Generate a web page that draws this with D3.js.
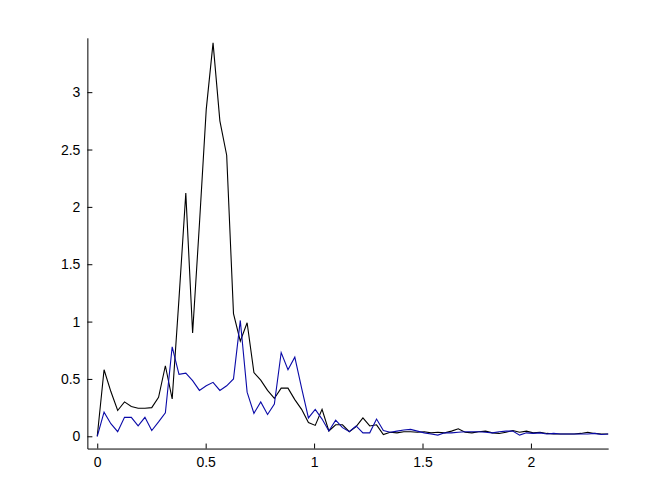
<!DOCTYPE html>
<html>
<head>
<meta charset="utf-8">
<script src="https://cdn.jsdelivr.net/npm/d3@7"></script>
<style>
  html, body { margin: 0; padding: 0; background: #ffffff; }
  svg { display: block; }
  .tick text { font-family: "Liberation Sans", Arial, sans-serif; font-size: 14px; fill: #000; }
</style>
</head>
<body>
<svg id="chart" width="672" height="504"></svg>
<script>
// Sample spacing: x = 0 : pi/100 : 3*pi/4
const step = Math.PI / 100;
const seriesBlack = [
  0, 0.58, 0.39, 0.225, 0.30, 0.26, 0.245, 0.245, 0.25, 0.34,
  0.615, 0.325, 1.2, 2.12, 0.90, 1.85, 2.85, 3.43, 2.75, 2.45,
  1.07, 0.83, 0.99, 0.555, 0.49, 0.40, 0.33, 0.42, 0.42, 0.32,
  0.235, 0.12, 0.095, 0.235, 0.046, 0.10, 0.10, 0.04, 0.085, 0.16,
  0.09, 0.10, 0.015, 0.035, 0.03, 0.04, 0.04, 0.035, 0.04, 0.03,
  0.035, 0.03, 0.045, 0.065, 0.035, 0.03, 0.04, 0.045, 0.03, 0.025,
  0.035, 0.05, 0.035, 0.045, 0.03, 0.035, 0.025, 0.02, 0.02, 0.02,
  0.02, 0.025, 0.035, 0.025, 0.02, 0.02
];
const seriesBlue = [
  0, 0.21, 0.11, 0.04, 0.165, 0.165, 0.09, 0.165, 0.05, 0.125,
  0.205, 0.78, 0.54, 0.55, 0.485, 0.40, 0.44, 0.47, 0.40, 0.44,
  0.50, 1.01, 0.385, 0.20, 0.30, 0.19, 0.28, 0.73, 0.58, 0.69,
  0.42, 0.16, 0.235, 0.15, 0.046, 0.14, 0.075, 0.04, 0.09, 0.03,
  0.03, 0.15, 0.05, 0.035, 0.045, 0.055, 0.06, 0.045, 0.03, 0.02,
  0.01, 0.03, 0.03, 0.035, 0.04, 0.04, 0.04, 0.035, 0.03, 0.04,
  0.045, 0.045, 0.01, 0.03, 0.025, 0.03, 0.02, 0.025, 0.02, 0.02,
  0.02, 0.02, 0.02, 0.025, 0.015, 0.02
];
const xTicks = [0, 0.5, 1, 1.5, 2];
const yTicks = [0, 0.5, 1, 1.5, 2, 2.5, 3];
const xDomain = [-0.0456, 3 * Math.PI / 4];
const yDomain = [-0.107, 3.474];

(function () {
  const W = 672, H = 504;
  const axLeft = 0.13 * W, axWidth = 0.775 * W;
  const axBottom = H - 0.11 * H, axHeight = 0.815 * H;
  const axTop = axBottom - axHeight;

  const svg = d3.select("#chart");
  svg.append("rect").attr("width", W).attr("height", H).attr("fill", "#ffffff");

  const x = d3.scaleLinear().domain(xDomain).range([axLeft, axLeft + axWidth]);
  const y = d3.scaleLinear().domain(yDomain).range([axBottom, axTop]);

  const fmt = d => String(d);

  const gx = svg.append("g").attr("transform", `translate(0,${axBottom})`)
    .call(d3.axisBottom(x).tickValues(xTicks).tickFormat(fmt)
      .tickSizeInner(-5).tickSizeOuter(0).tickPadding(9));
  const gy = svg.append("g").attr("transform", `translate(${axLeft},0)`)
    .call(d3.axisLeft(y).tickValues(yTicks).tickFormat(fmt)
      .tickSizeInner(-5).tickSizeOuter(0).tickPadding(7));
  [gx, gy].forEach(g => {
    g.selectAll(".domain").attr("stroke", "#000").attr("stroke-width", 1);
    g.selectAll(".tick line").attr("stroke", "#000");
  });

  const line = d3.line()
    .x((d, i) => x(i * step))
    .y(d => y(d));

  svg.append("path").datum(seriesBlack)
    .attr("fill", "none").attr("stroke", "#000000").attr("stroke-width", 1.1)
    .attr("d", line);
  svg.append("path").datum(seriesBlue)
    .attr("fill", "none").attr("stroke", "#0a0aa8").attr("stroke-width", 1.1)
    .attr("d", line);
})();
</script>
</body>
</html>
